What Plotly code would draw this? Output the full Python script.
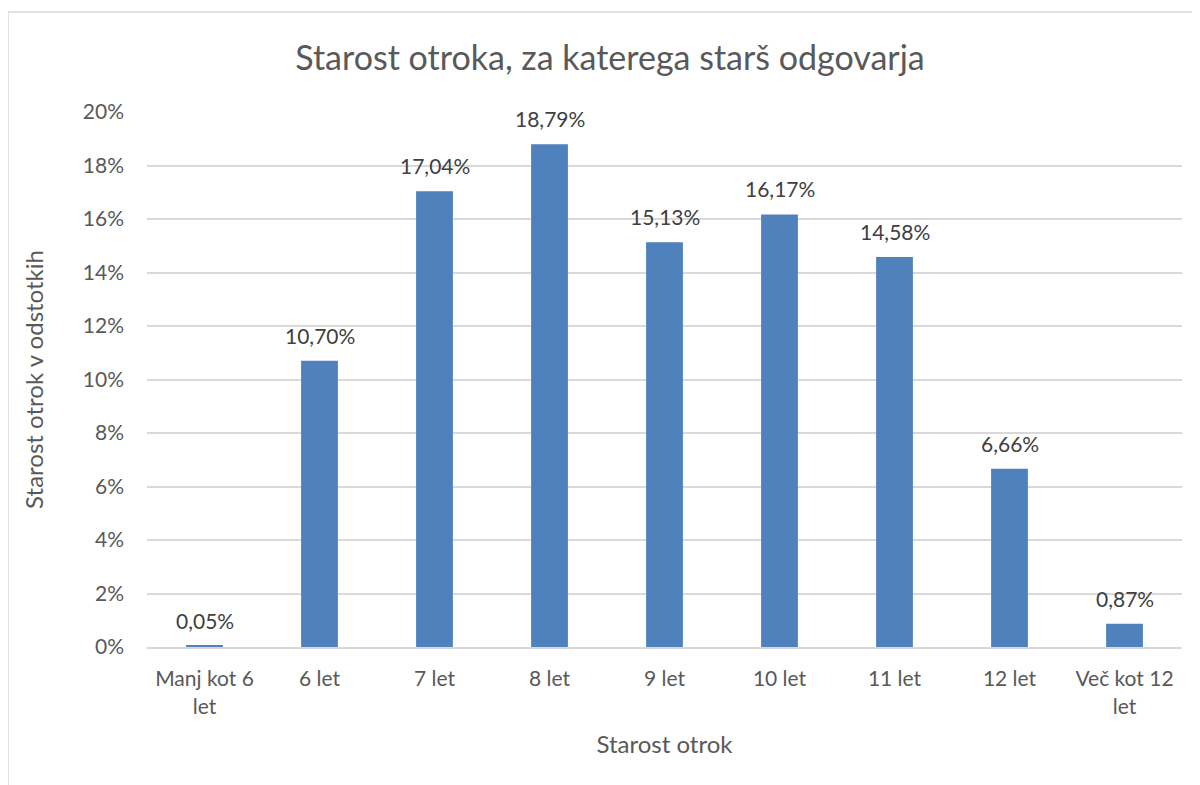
import plotly.graph_objects as go

categories = ["Manj kot 6<br>let", "6 let", "7 let", "8 let", "9 let",
              "10 let", "11 let", "12 let", "Več kot 12<br>let"]
values = [0.0005, 0.1070, 0.1704, 0.1879, 0.1513, 0.1617, 0.1458, 0.0666, 0.0087]
y_ticks = [0, 0.02, 0.04, 0.06, 0.08, 0.10, 0.12, 0.14, 0.16, 0.18, 0.20]

grey = "#595959"
font = "Lato, Calibri, 'Open Sans', sans-serif"

# page body has an 8px margin, so the figure is laid out in page px minus 8
L, T, R, B = 139, 104, 26, 146
W, H = 1200, 785
pw, ph = W - L - R, H - T - B

fig = go.Figure()
fig.add_trace(go.Bar(
    x=categories, y=values,
    marker=dict(color="#4F81BD", line=dict(width=0)),
))

# data labels, comma decimal like the source
for c, v in zip(categories, values):
    fig.add_annotation(x=c, y=v, text=f"{v * 100:.2f}%".replace(".", ","),
                       showarrow=False, yanchor="bottom", yshift=11,
                       font=dict(size=21, color="#404040", family=font))

fig.update_layout(
    width=W, height=H,
    plot_bgcolor="white", paper_bgcolor="white",
    margin=dict(l=L, r=R, t=T, b=B),
    bargap=0.68,
    showlegend=False,
    font=dict(family=font, color=grey, size=21),
    title=dict(text="Starost otroka, za katerega starš odgovarja",
               x=602 / W, xanchor="center", y=1 - 50 / H, yanchor="middle",
               font=dict(size=34, color=grey, family=font)),
)

fig.update_yaxes(
    range=[0, 0.2], tickvals=y_ticks, tickformat=".0%",
    showgrid=True, gridcolor="#D9D9D9", gridwidth=1.5,
    zeroline=False, showline=False, ticks="",
    ticklabelstandoff=22,
    tickfont=dict(size=21, color=grey),
    title=dict(text="Starost otrok v odstotkih", standoff=32,
               font=dict(size=24, color=grey)),
)
fig.update_xaxes(
    showline=True, linecolor="#D9D9D9", linewidth=2,
    ticks="", ticklabelstandoff=12,
    tickfont=dict(size=21, color=grey),
    title=dict(text="Starost otrok", standoff=20,
               font=dict(size=24, color=grey)),
)

# chart border like the Excel chart area
fig.add_shape(type="rect", xref="paper", yref="paper",
              x0=(0 - L) / pw, x1=(1190 - L) / pw,
              y0=-0.4, y1=(ph + T - 4) / ph,
              line=dict(color="#D9D9D9", width=1.5), layer="below")

fig.write_html("out.html")
